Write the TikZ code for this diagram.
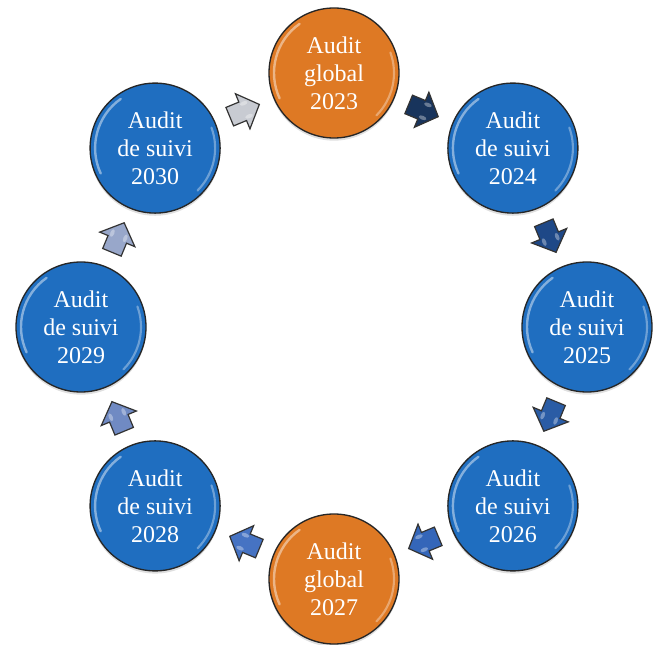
\documentclass[tikz,border=0pt]{standalone}
\usepackage{fontspec}
\setmainfont{Liberation Serif}
\usetikzlibrary{calc,shadows}
\definecolor{blueball}{RGB}{31,110,192}
\definecolor{orangeball}{RGB}{222,121,36}
\definecolor{arA}{RGB}{24,52,92}
\definecolor{arB}{RGB}{30,72,135}
\definecolor{arC}{RGB}{42,92,165}
\definecolor{arD}{RGB}{52,102,185}
\definecolor{arE}{RGB}{70,115,195}
\definecolor{arF}{RGB}{112,138,195}
\definecolor{arG}{RGB}{152,167,202}
\definecolor{arH}{RGB}{200,203,210}
\begin{document}
\begin{tikzpicture}[x=0.75pt,y=-0.75pt,
  ball/.style={circle, minimum size=97.5pt, inner sep=0pt, draw=black!85,
    line width=1pt, text=white, align=center,
    font=\fontsize{18}{21}\selectfont,
    drop shadow={opacity=0.25, shadow xshift=0pt, shadow yshift=-2pt},
    path picture={
      \draw[white, opacity=0.45, line width=1.8pt, line cap=round]
        ($(path picture bounding box.center)+(125:45pt)$) arc[start angle=125, end angle=205, radius=45pt];
      \draw[white, opacity=0.35, line width=1.6pt, line cap=round]
        ($(path picture bounding box.center)+(-45:45pt)$) arc[start angle=-45, end angle=20, radius=45pt];
    }},
  blueb/.style={ball, fill=blueball},
  orangeb/.style={ball, fill=orangeball},
  blockarrow/.style={draw=black!80, line width=0.9pt, line join=miter}]
\useasboundingbox (0,0) rectangle (654,645);
\node[orangeb] (c0) at (334,73)       {Audit\\global\\2023};
\node[blueb]   (c1) at (512.9,148.1)  {Audit\\de suivi\\2024};
\node[blueb]   (c2) at (587,327)      {Audit\\de suivi\\2025};
\node[blueb]   (c3) at (512.9,505.9)  {Audit\\de suivi\\2026};
\node[orangeb] (c4) at (334,579)      {Audit\\global\\2027};
\node[blueb]   (c5) at (155.1,505.9)  {Audit\\de suivi\\2028};
\node[blueb]   (c6) at (81,327)       {Audit\\de suivi\\2029};
\node[blueb]   (c7) at (155.1,148.1)  {Audit\\de suivi\\2030};
\foreach \a/\b/\col/\rot in {c0/c1/arA/-22.5, c1/c2/arB/-67.5, c2/c3/arC/-112.5,
    c3/c4/arD/-157.5, c4/c5/arE/157.5, c5/c6/arF/112.5, c6/c7/arG/67.5, c7/c0/arH/22.5}{
  \draw[blockarrow, fill=\col, shift={($(\a)!0.5!(\b)$)}, rotate=\rot]
    (-16,-10) -- (-2,-10) -- (-2,-19) -- (16,0) -- (-2,19) -- (-2,10) -- (-16,10) -- cycle;
  \fill[white, opacity=0.35, shift={($(\a)!0.5!(\b)$)}, rotate=\rot]
    (2,-7) ellipse[x radius=4, y radius=2] (2,7) ellipse[x radius=4, y radius=2];
}
\end{tikzpicture}
\end{document}
